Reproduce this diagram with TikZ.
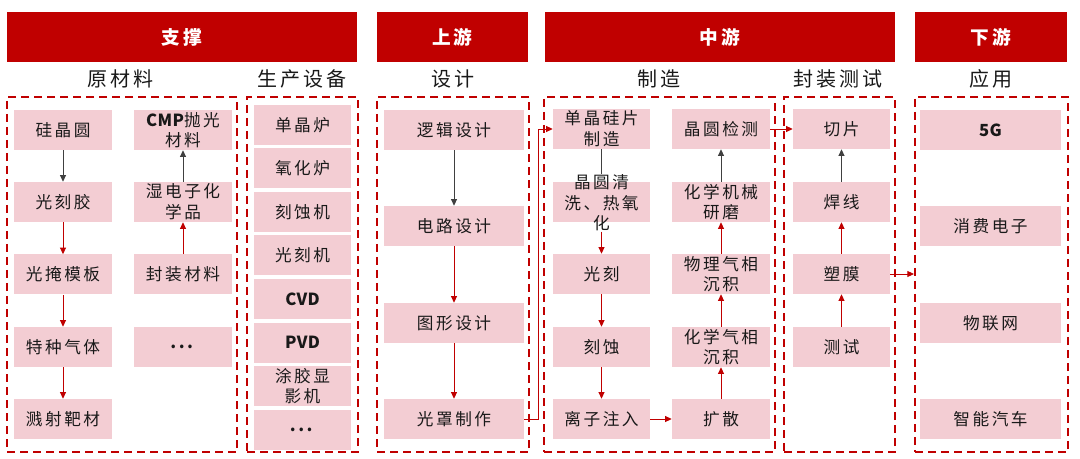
\documentclass[tikz,border=0pt]{standalone}
\usepackage{fontspec}
\setmainfont{Noto Sans CJK SC}[LetterSpace=15]
\usetikzlibrary{arrows.meta}
\definecolor{hdrred}{RGB}{192,0,0}
\definecolor{boxpink}{RGB}{243,205,211}
\definecolor{txtgray}{RGB}{25,25,25}
\definecolor{arrgray}{RGB}{64,64,64}
\newcommand\lat[1]{{\addfontfeatures{LetterSpace=2}\bfseries #1}}

\tikzset{
  hdr/.style={fill=hdrred, text=white, minimum height=37.5pt, inner sep=0pt,
    font=\fontsize{14}{17}\selectfont\bfseries},
  subhdr/.style={text=txtgray, font=\fontsize{15}{18}\selectfont},
  grp/.style={draw=hdrred, line width=1.5pt, dash pattern=on 6pt off 3.75pt,
    inner sep=0pt, minimum height=266.25pt},
  item/.style={fill=boxpink, text=txtgray, minimum width=73.5pt, minimum height=30pt,
    inner sep=0pt, align=center, font=\fontsize{12.5}{15.5}\selectfont},
  wide/.style={item, minimum width=105pt},
  redarr/.style={draw=hdrred, line width=0.7pt, -{Triangle[length=5pt,width=4.5pt]}},
  blkarr/.style={draw=arrgray, line width=0.7pt, -{Triangle[length=5pt,width=4.5pt]}}
}

\begin{document}
\begin{tikzpicture}[x=0.75pt, y=-0.75pt]
  \useasboundingbox (0,0) rectangle (1080,459);

  % Headers
  \node[hdr, minimum width=262.5pt] (support) at (182,37) {支撑};
  \node[hdr, minimum width=113.25pt] (upstream) at (452.5,37) {上游};
  \node[hdr, minimum width=262.5pt] (midstream) at (720,37) {中游};
  \node[hdr, minimum width=114pt] (downstream) at (991,37) {下游};

  \node[subhdr] (rawhd) at (120,79) {原材料};
  \node[subhdr] (equiphd) at (302,79) {生产设备};
  \node[subhdr] (designhd) at (453,79) {设计};
  \node[subhdr] (mfghd) at (659,79) {制造};
  \node[subhdr] (pkghd) at (838,79) {封装测试};
  \node[subhdr] (apphd) at (991,79) {应用};

  % Dashed groups
  \node[grp, minimum width=172.5pt] (rawbox) at (122,274.5) {};
  \node[grp, minimum width=83.25pt] (equipbox) at (302.5,274.5) {};
  \node[grp, minimum width=114pt] (designbox) at (453,274.5) {};
  \node[grp, minimum width=173.25pt] (mfgbox) at (659.5,274.5) {};
  \node[grp, minimum width=83.25pt] (pkgbox) at (839.5,274.5) {};
  \node[grp, minimum width=114.75pt] (appbox) at (991.5,274.5) {};

  % Raw materials
  \node[item] (wafer) at (63,130) {硅晶圆};
  \node[item] (resist) at (63,202) {光刻胶};
  \node[item] (mask) at (63,274.5) {光掩模板};
  \node[item] (gas) at (63,347) {特种气体};
  \node[item] (target) at (63,419) {溅射靶材};
  \node[item] (cmp) at (183,130) {\lat{CMP}抛光\\材料};
  \node[item] (wetchem) at (183,202) {湿电子化\\学品};
  \node[item] (pkgmat) at (183,274.5) {封装材料};
  \node[item] (rawmore) at (183,347) {\textbf{...}};

  \draw[blkarr] (wafer) -- (resist);
  \draw[redarr] (resist) -- (mask);
  \draw[redarr] (mask) -- (gas);
  \draw[redarr] (gas) -- (target);
  \draw[redarr] (pkgmat) -- (wetchem);
  \draw[blkarr] (wetchem) -- (cmp);

  % Equipment
  \foreach \txt [count=\i from 0] in {单晶炉, 氧化炉, 刻蚀机, 光刻机,
      {\lat{CVD}}, {\lat{PVD}}, {涂胶显\\影机}, {\textbf{...}}}
    \node[item, minimum width=72.75pt] (eq\i) at (302.5,{125+43.5*\i}) {\txt};

  % Design
  \node[wide] (logic) at (454,130) {逻辑设计};
  \node[wide] (circuit) at (454,226) {电路设计};
  \node[wide] (layout) at (454,323) {图形设计};
  \node[wide] (reticle) at (454,419) {光罩制作};

  \draw[blkarr] (logic) -- (circuit);
  \draw[redarr] (circuit) -- (layout);
  \draw[redarr] (layout) -- (reticle);

  % Manufacturing
  \node[item, minimum width=72.75pt] (mono) at (601.5,129) {单晶硅片\\制造};
  \node[item, minimum width=72.75pt] (clean) at (601.5,202) {};
  \node[align=center, text=txtgray, inner sep=0pt,
    font=\fontsize{12.5}{15.5}\selectfont] (cleantxt) at (601.5,203) {晶圆清\\洗、热氧\\化};
  \node[item, minimum width=72.75pt] (litho) at (601.5,274) {光刻};
  \node[item, minimum width=72.75pt] (etch) at (601.5,347) {刻蚀};
  \node[item, minimum width=72.75pt] (implant) at (601.5,419) {离子注入};
  \node[item] (inspect) at (721,129) {晶圆检测};
  \node[item] (polish) at (721,202) {化学机械\\研磨};
  \node[item] (pvd) at (721,274) {物理气相\\沉积};
  \node[item] (cvd) at (721,347) {化学气相\\沉积};
  \node[item] (diffuse) at (721,419) {扩散};

  \draw[redarr] (reticle.east) -- ++(14,0) |- (mono.west);
  \draw[draw=arrgray, line width=0.7pt] (mono.south) -- (cleantxt.north);
  \draw[redarr] (cleantxt) -- (litho);
  \draw[redarr] (litho) -- (etch);
  \draw[redarr] (etch) -- (implant);
  \draw[redarr] (implant) -- (diffuse);
  \draw[redarr] (diffuse) -- (cvd);
  \draw[redarr] (cvd) -- (pvd);
  \draw[redarr] (pvd) -- (polish);
  \draw[blkarr] (polish) -- (inspect);

  % Packaging and test
  \node[item, minimum width=72.75pt] (dice) at (841.5,129) {切片};
  \node[item, minimum width=72.75pt] (bond) at (841.5,202) {焊线};
  \node[item, minimum width=72.75pt] (mold) at (841.5,274) {塑膜};
  \node[item, minimum width=72.75pt] (test) at (841.5,347) {测试};

  \draw[redarr] (inspect) -- (dice);
  \draw[redarr] (test) -- (mold);
  \draw[redarr] (mold) -- (bond);
  \draw[blkarr] (bond) -- (dice);
  \draw[redarr] (mold.east) -- (mold.east -| appbox.west);

  % Applications
  \node[item, minimum width=105.75pt] (fiveg) at (990.5,130) {\lat{5G}};
  \node[item, minimum width=105.75pt] (consumer) at (990.5,226) {消费电子};
  \node[item, minimum width=105.75pt] (iot) at (990.5,323) {物联网};
  \node[item, minimum width=105.75pt] (auto) at (990.5,419) {智能汽车};
\end{tikzpicture}
\end{document}
